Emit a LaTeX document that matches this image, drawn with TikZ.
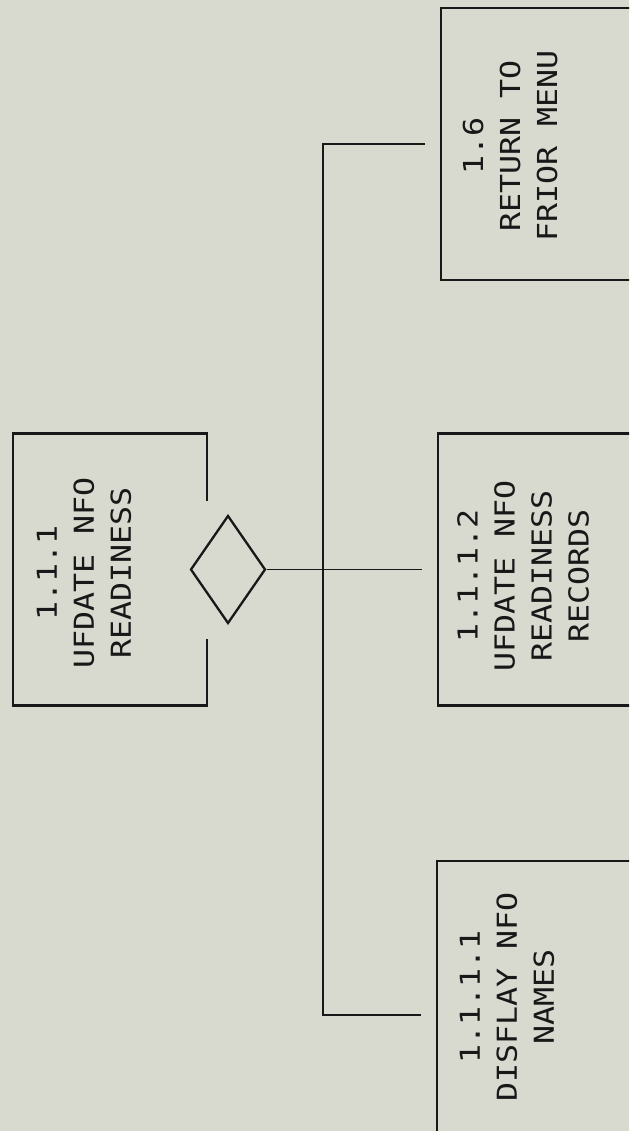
\documentclass[tikz,border=0pt]{standalone}
\usepackage{fontspec}
\newfontfamily\plotfont[FakeStretch=1.15]{DejaVu Sans Mono}
\usetikzlibrary{shapes.geometric,calc}
\definecolor{paper}{RGB}{216,218,208}
\definecolor{ink}{RGB}{24,24,24}
\tikzset{
  outline/.style={draw=ink, line width=2.3pt},
  procbox/.style={rectangle, minimum width=194pt, minimum height=272pt, inner sep=0pt, outer sep=0pt},
  proctext/.style={rotate=90, align=center, inner sep=0pt, text=ink,
    font=\plotfont\fontsize{27.5}{37}\selectfont},
  choice/.style={diamond, draw=ink, line width=2.3pt, minimum width=75pt, minimum height=108pt, inner sep=0pt},
  link/.style={draw=ink, line width=2.3pt},
  thinlink/.style={draw=ink, line width=1.7pt},
}
\begin{document}
\begin{tikzpicture}[x=1pt, y=-1pt]
  \fill[paper] (0,0) rectangle (629,1131);
  \useasboundingbox (0,0) rectangle (629,1131);
  \clip (0,0) rectangle (629,1131);

  % parent process with the selection diamond on its edge
  \node[procbox] (p111) at (110,569.5) {};
  \draw[outline] ([yshift=69pt]p111.east) |- (p111.north west) |- (p111.south east) -- ([yshift=-69pt]p111.east);
  \node[proctext] (t111) at (84,573) {1.1.1\\UFDATE NFO\\READINESS};
  \node[choice] (sel) at (228,569.5) {};

  % child processes
  \node[procbox, outline] (b16) at (538,144) {};
  \node[proctext] (t16) at (510,146) {1.6\\RETURN TO\\FRIOR MENU};

  \node[procbox, outline] (b1112) at (535,569.5) {};
  \node[proctext] (t1112) at (523,576) {1.1.1.2\\UFDATE NFO\\READINESS\\RECORDS};

  \node[procbox, outline] (b1111) at (534,997) {};
  \node[proctext] (t1111) at (507,997) {1.1.1.1\\DISFLAY NFO\\NAMES};

  % connectors
  \coordinate (bus) at (323,0);
  \coordinate (topend) at ([xshift=-16pt]b16.west);
  \coordinate (lowend) at ([xshift=-16pt,yshift=-18pt]b1111.west);
  \draw[link] (topend) -- (bus |- topend) -- (bus |- lowend) -- (lowend);
  \draw[thinlink] (sel.east) -- ([xshift=-16pt]b1112.west);
\end{tikzpicture}
\end{document}
